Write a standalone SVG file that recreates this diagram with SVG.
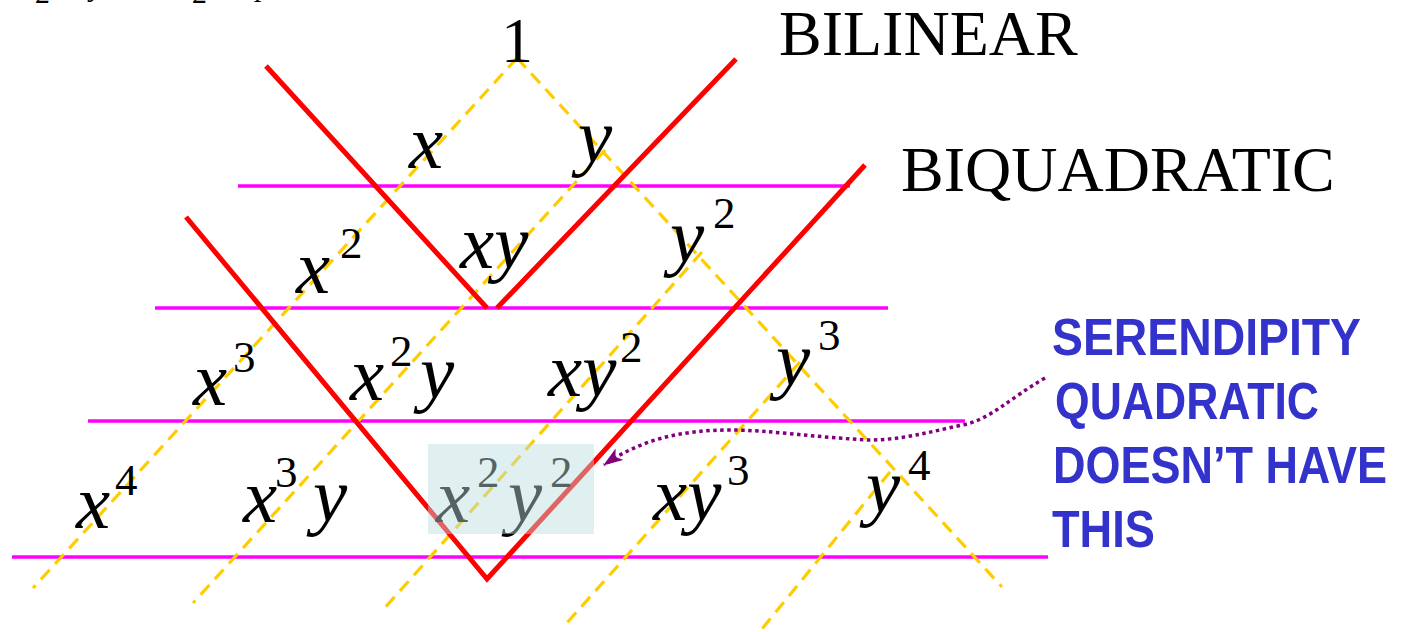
<svg xmlns="http://www.w3.org/2000/svg" width="1404" height="632" viewBox="0 0 1404 632">
<defs>
<style>
.mag{stroke:#FF00FF;stroke-width:3.6;fill:none}
.red{stroke:#FF0000;stroke-width:5;fill:none;stroke-linecap:butt;stroke-linejoin:miter}
.dash{stroke:#FFCC00;stroke-width:3.2;stroke-dasharray:13 8;fill:none}
.v{font-family:"Liberation Serif","Times New Roman",serif;font-style:italic;font-size:77px;fill:#000}
.s{font-family:"Liberation Serif","Times New Roman",serif;font-size:45px;fill:#000}
.t{font-family:"Liberation Serif","Times New Roman",serif;font-size:64px;fill:#000}
.b{font-family:"Liberation Sans",Arial,sans-serif;font-weight:bold;font-size:52px;fill:#3333CC}
.frag{font-family:"Liberation Serif","Times New Roman",serif;font-style:italic;font-size:30px;fill:#000}
</style>
<marker id="ah" markerUnits="userSpaceOnUse" viewBox="0 0 20 14" refX="19" refY="7" markerWidth="20" markerHeight="14" orient="auto"><path d="M0,0 L20,7 L0,14 L5,7 Z" fill="#800080"/></marker>
</defs>
<rect width="1404" height="632" fill="#FFFFFF"/>
<g id="fragments">
<text class="frag" x="36" y="3">2</text>
<text class="frag" x="90" y="-4">y</text>
<text class="frag" x="193" y="3">2</text>
<text class="frag" x="256" y="-4">p</text>
</g>
<g id="connectors">
<path class="mag" d="M238,186 H850"/>
<path class="mag" d="M155,308 H888"/>
<path class="mag" d="M88,421 H965"/>
<path class="mag" d="M12,557 H1048"/>
<path class="dash" d="M517,58 L33,588"/>
<path class="dash" d="M605,150 L193,603"/>
<path class="dash" d="M702,252 L382,611"/>
<path class="dash" d="M800,362 L565,625"/>
<path class="dash" d="M890,472 L757,635"/>
<path class="dash" d="M517,58 L1002,587"/>
<path class="red" d="M266,66 L487,308"/>
<path class="red" d="M497,308 L736,59"/>
<path class="red" d="M186,217 L487,579 L865,165"/>
</g>
<g id="n1"><text class="t" x="517" y="62" text-anchor="middle" font-size="78">1</text></g>
<g id="bilinear"><text class="t" x="779" y="55">BILINEAR</text></g>
<g id="biquadratic"><text class="t" x="901" y="191" font-size="63">BIQUADRATIC</text></g>
<g id="nx"><text class="v" x="409" y="168">x</text></g>
<g id="ny"><text class="v" x="578" y="162">y</text></g>
<g id="nx2"><text class="v" x="296" y="293">x</text><text class="s" x="340" y="258">2</text></g>
<g id="nxy"><text class="v" x="460" y="268">xy</text></g>
<g id="ny2"><text class="v" x="670" y="262">y</text><text class="s" x="713" y="228">2</text></g>
<g id="nx3"><text class="v" x="193" y="405">x</text><text class="s" x="233" y="372">3</text></g>
<g id="nx2y"><text class="v" x="350" y="400">x</text><text class="s" x="390" y="366">2</text><text class="v" x="420" y="398">y</text></g>
<g id="nxy2"><text class="v" x="548" y="396">xy</text><text class="s" x="620" y="362">2</text></g>
<g id="ny3"><text class="v" x="776" y="385">y</text><text class="s" x="818" y="350">3</text></g>
<g id="nx4"><text class="v" x="76" y="528">x</text><text class="s" x="115" y="495">4</text></g>
<g id="nx3y"><text class="v" x="243" y="522">x</text><text class="s" x="275" y="487">3</text><text class="v" x="313" y="521">y</text></g>
<g id="nx2y2"><text class="v" x="436" y="522">x</text><text class="s" x="477" y="487">2</text><text class="v" x="508" y="521">y</text><text class="s" x="550" y="487">2</text></g>
<g id="nxy3"><text class="v" x="653" y="520">xy</text><text class="s" x="727" y="485">3</text></g>
<g id="ny4"><text class="v" x="866" y="512">y</text><text class="s" x="908" y="480">4</text></g>
<g id="highlight"><rect x="428" y="444" width="166" height="90" fill="#BADEDE" fill-opacity="0.45"/></g>
<g id="arrow"><path d="M1045,378 C1010,398 990,420 962,425 C930,432 900,440 870,440 C820,438 770,430 730,430 C680,430 640,440 604,465" fill="none" stroke="#800080" stroke-width="3.5" stroke-dasharray="3.5 3.5" marker-end="url(#ah)"/></g>
<g id="serendipity">
<text class="b" x="1052" y="355" textLength="309" lengthAdjust="spacingAndGlyphs">SERENDIPITY</text>
<text class="b" x="1055" y="419" textLength="264" lengthAdjust="spacingAndGlyphs">QUADRATIC</text>
<text class="b" x="1053" y="483" textLength="334" lengthAdjust="spacingAndGlyphs">DOESN’T HAVE</text>
<text class="b" x="1052" y="547" textLength="103" lengthAdjust="spacingAndGlyphs">THIS</text>
</g>
</svg>
